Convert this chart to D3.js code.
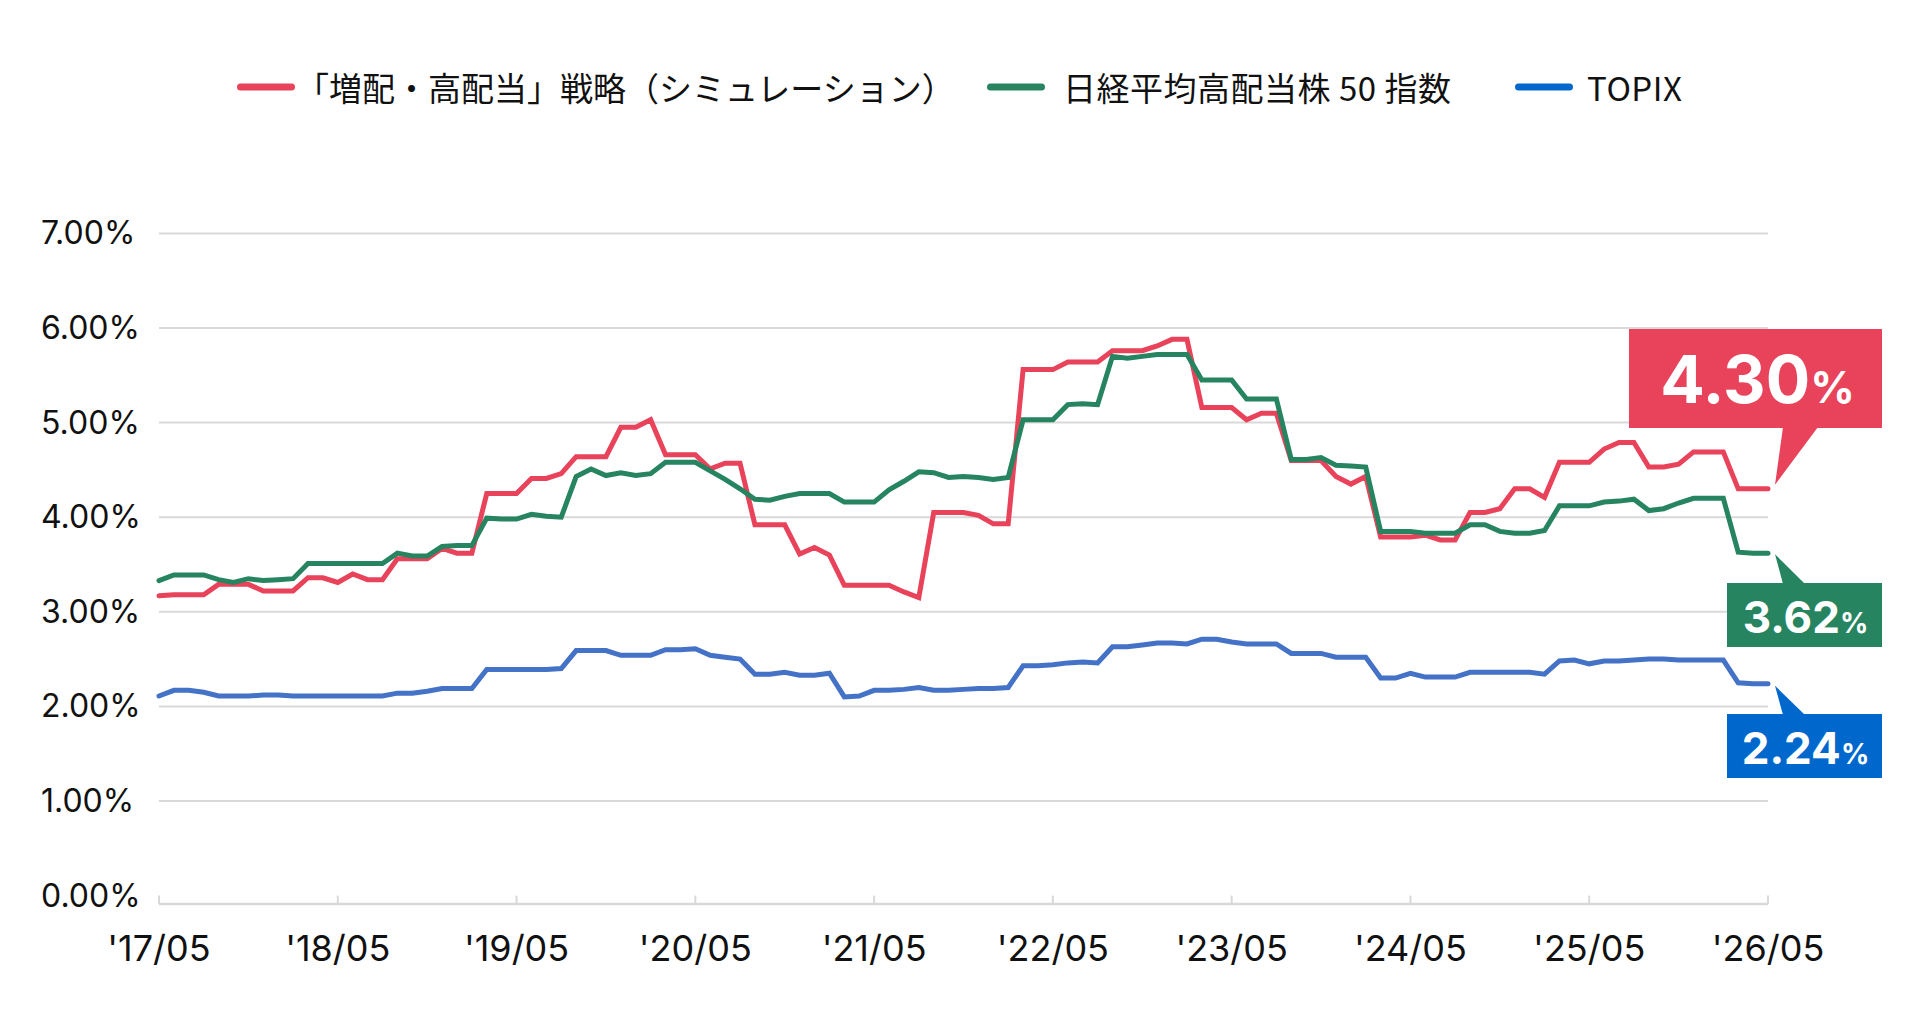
<!DOCTYPE html>
<html lang="ja">
<head>
<meta charset="utf-8">
<script src="https://cdn.jsdelivr.net/npm/d3@7/dist/d3.min.js"></script>
<style>
  html, body { margin: 0; padding: 0; background: #ffffff; }
  svg { display: block; }
</style>
</head>
<body>
<svg id="chart" width="1920" height="1020"></svg>
<script>
// ---- data (monthly, 2017/05 .. 2026/05) ----
const seriesNames = ["「増配・高配当」戦略（シミュレーション）", "日経平均高配当株 50 指数", "TOPIX"];
const strategyValues = [
  3.17,3.18,3.18,3.18,3.29,3.29,3.29,3.22,3.22,3.22,3.36,3.36,
  3.31,3.40,3.34,3.34,3.56,3.56,3.56,3.67,3.62,3.62,4.25,4.25,
  4.25,4.41,4.41,4.46,4.64,4.64,4.64,4.95,4.95,5.03,4.66,4.66,
  4.66,4.51,4.57,4.57,3.92,3.92,3.92,3.61,3.68,3.60,3.28,3.28,
  3.28,3.28,3.21,3.15,4.05,4.05,4.05,4.02,3.93,3.93,5.56,5.56,
  5.56,5.64,5.64,5.64,5.76,5.76,5.76,5.81,5.88,5.88,5.16,5.16,
  5.16,5.03,5.10,5.10,4.60,4.60,4.60,4.43,4.35,4.43,3.79,3.79,
  3.79,3.81,3.76,3.76,4.05,4.05,4.09,4.30,4.30,4.21,4.58,4.58,
  4.58,4.72,4.79,4.79,4.53,4.53,4.56,4.69,4.69,4.69,4.30,4.30,
  4.30
];
const nikkeiValues = [
  3.33,3.39,3.39,3.39,3.34,3.31,3.35,3.33,3.34,3.35,3.51,3.51,
  3.51,3.51,3.51,3.51,3.62,3.59,3.59,3.69,3.70,3.70,3.99,3.98,
  3.98,4.03,4.01,4.00,4.43,4.51,4.44,4.47,4.44,4.46,4.58,4.58,
  4.58,4.49,4.40,4.30,4.19,4.18,4.22,4.25,4.25,4.25,4.16,4.16,
  4.16,4.29,4.38,4.48,4.47,4.42,4.43,4.42,4.40,4.42,5.03,5.03,
  5.03,5.19,5.20,5.19,5.70,5.68,5.70,5.72,5.72,5.72,5.45,5.45,
  5.45,5.25,5.25,5.25,4.61,4.61,4.63,4.55,4.54,4.53,3.85,3.85,
  3.85,3.83,3.83,3.83,3.92,3.92,3.85,3.83,3.83,3.86,4.12,4.12,
  4.12,4.16,4.17,4.19,4.07,4.09,4.15,4.20,4.20,4.20,3.63,3.62,
  3.62
];
const topixValues = [
  2.11,2.17,2.17,2.15,2.11,2.11,2.11,2.12,2.12,2.11,2.11,2.11,
  2.11,2.11,2.11,2.11,2.14,2.14,2.16,2.19,2.19,2.19,2.39,2.39,
  2.39,2.39,2.39,2.40,2.59,2.59,2.59,2.54,2.54,2.54,2.60,2.60,
  2.61,2.54,2.52,2.50,2.34,2.34,2.36,2.33,2.33,2.35,2.10,2.11,
  2.17,2.17,2.18,2.20,2.17,2.17,2.18,2.19,2.19,2.20,2.43,2.43,
  2.44,2.46,2.47,2.46,2.63,2.63,2.65,2.67,2.67,2.66,2.71,2.71,
  2.68,2.66,2.66,2.66,2.56,2.56,2.56,2.52,2.52,2.52,2.30,2.30,
  2.35,2.31,2.31,2.31,2.36,2.36,2.36,2.36,2.36,2.34,2.48,2.49,
  2.45,2.48,2.48,2.49,2.50,2.50,2.49,2.49,2.49,2.49,2.25,2.24,
  2.24
];
const xTickLabels = ["'17/05","'18/05","'19/05","'20/05","'21/05","'22/05","'23/05","'24/05","'25/05","'26/05"];
const yTickValues = [0,1,2,3,4,5,6,7];
const endLabels = ["4.30", "3.62", "2.24"];

// ---- layout ----
const svg = d3.select("#chart");
const colors = { red: "#e8435a", green: "#268461", blue: "#4472c6", blueBox: "#0068cc" };
const numFont = "Inter, 'Noto Sans', sans-serif";
const jpFont = "'Noto Sans CJK JP', 'Noto Sans', sans-serif";

const nMonths = strategyValues.length;
const x = d3.scaleLinear().domain([0, nMonths - 1]).range([159, 1768]);
const y = d3.scaleLinear().domain([0, 7]).range([895.6, 233.4]);

// gridlines (1..7)
svg.append("g").selectAll("line")
  .data(yTickValues.filter(v => v > 0))
  .join("line")
  .attr("x1", x(0)).attr("x2", x(nMonths - 1))
  .attr("y1", d => y(d)).attr("y2", d => y(d))
  .attr("stroke", "#d9d9d9").attr("stroke-width", 2);

// y labels (left aligned)
svg.append("g").selectAll("text")
  .data(yTickValues)
  .join("text")
  .attr("x", 41)
  .attr("y", d => y(d) + 11)
  .attr("font-family", numFont)
  .attr("font-size", 32)
  .attr("fill", "#111")
  .text(d => d.toFixed(2) + "%");

// x axis line + ticks
const axisY = y(0) + 8.5;
svg.append("line")
  .attr("x1", x(0)).attr("x2", x(nMonths - 1))
  .attr("y1", axisY).attr("y2", axisY)
  .attr("stroke", "#d9d9d9").attr("stroke-width", 2.5);
const tickIdx = xTickLabels.map((_, i) => i * 12);
svg.append("g").selectAll("line")
  .data(tickIdx)
  .join("line")
  .attr("x1", d => x(d)).attr("x2", d => x(d))
  .attr("y1", y(0)).attr("y2", axisY)
  .attr("stroke", "#d9d9d9").attr("stroke-width", 2);
svg.append("g").selectAll("text")
  .data(xTickLabels)
  .join("text")
  .attr("x", (d, i) => x(tickIdx[i]))
  .attr("y", 961)
  .attr("text-anchor", "middle")
  .attr("font-family", numFont)
  .attr("font-size", 36)
  .attr("fill", "#111")
  .text(d => d);

// lines
const line = d3.line().x((d, i) => x(i)).y(d => y(d)).curve(d3.curveLinear);
const seriesDefs = [
  { values: strategyValues, color: colors.red },
  { values: nikkeiValues, color: colors.green },
  { values: topixValues, color: colors.blue }
];
svg.append("g").selectAll("path")
  .data(seriesDefs)
  .join("path")
  .attr("d", d => line(d.values))
  .attr("fill", "none")
  .attr("stroke", d => d.color)
  .attr("stroke-width", 5)
  .attr("stroke-linejoin", "miter")
  .attr("stroke-linecap", "round");

// end callouts
const lastX = x(nMonths - 1);
function callout(value, label, color, opts) {
  const g = svg.append("g");
  const ay = y(value) + opts.apexDy;
  const ax = lastX + 7;
  g.append("rect")
    .attr("x", opts.x0).attr("y", opts.y0)
    .attr("width", opts.w).attr("height", opts.h)
    .attr("fill", color);
  const baseY = opts.pointerUp ? opts.y0 : opts.y0 + opts.h;
  g.append("path")
    .attr("d", `M${ax},${ay}L${opts.bx1},${baseY + (opts.pointerUp ? 1 : -1)}L${opts.bx2},${baseY + (opts.pointerUp ? 1 : -1)}Z`)
    .attr("fill", color);
  const t = g.append("text")
    .attr("x", opts.x0 + opts.w / 2 + opts.tdx)
    .attr("y", opts.baseline)
    .attr("text-anchor", "middle")
    .attr("font-family", numFont)
    .attr("font-weight", 700)
    .attr("fill", "#fff");
  t.append("tspan").attr("font-size", opts.fs).text(label);
  t.append("tspan").attr("font-size", opts.fsPct).text("%");
}
callout(strategyValues[nMonths - 1], endLabels[0], colors.red,
  { x0: 1629, y0: 329, w: 253, h: 99, apexDy: -4, bx1: 1783, bx2: 1818, pointerUp: false,
    baseline: 403, fs: 66, fsPct: 44, tdx: 2 });
callout(nikkeiValues[nMonths - 1], endLabels[1], colors.green,
  { x0: 1727, y0: 583, w: 155, h: 64, apexDy: 1, bx1: 1783, bx2: 1805, pointerUp: true,
    baseline: 633, fs: 44, fsPct: 28, tdx: 1 });
callout(topixValues[nMonths - 1], endLabels[2], colors.blueBox,
  { x0: 1727, y0: 714, w: 155, h: 64, apexDy: 2, bx1: 1783, bx2: 1805, pointerUp: true,
    baseline: 764, fs: 44, fsPct: 28, tdx: 1 });

// legend (item positions as in the reference)
const legendColors = [colors.red, colors.green, colors.blueBox];
const legendX = [237, 987, 1515];
const legendTextDx = [59, 76, 72];
const legendSpacing = [0, 0.5, 0.5];
const leg = svg.append("g");
seriesNames.forEach((name, i) => {
  const g = leg.append("g").attr("transform", `translate(${legendX[i]},87)`);
  g.append("line")
    .attr("x1", 3.5).attr("x2", 54.5)
    .attr("y1", 0).attr("y2", 0)
    .attr("stroke", legendColors[i]).attr("stroke-width", 7)
    .attr("stroke-linecap", "round");
  g.append("text")
    .attr("x", legendTextDx[i]).attr("y", 0)
    .attr("dominant-baseline", "central")
    .attr("font-family", jpFont)
    .attr("font-size", 33)
    .attr("letter-spacing", legendSpacing[i])
    .attr("fill", "#111")
    .text(name);
});
</script>
</body>
</html>
